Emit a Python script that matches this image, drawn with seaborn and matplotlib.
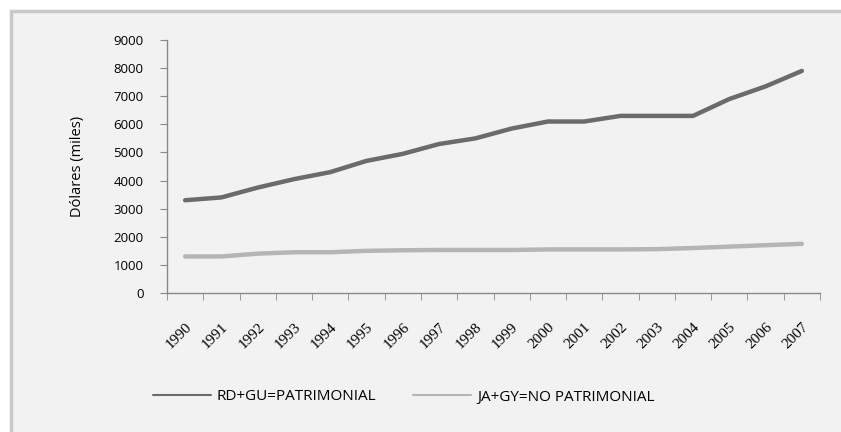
import pandas as pd
import numpy as np
import matplotlib
matplotlib.use("Agg")
import matplotlib.pyplot as plt
import seaborn as sns
from matplotlib.lines import Line2D
from matplotlib.patches import Rectangle

years = [str(y) for y in range(1990, 2008)]
patrimonial = [3300, 3400, 3750, 4050, 4300, 4700, 4950, 5300, 5500, 5850,
               6100, 6100, 6300, 6300, 6300, 6900, 7350, 7900]
no_patrimonial = [1300, 1300, 1400, 1450, 1450, 1500, 1520, 1530, 1530, 1530,
                  1550, 1550, 1550, 1560, 1600, 1650, 1700, 1750]
series_names = ["RD+GU=PATRIMONIAL", "JA+GY=NO PATRIMONIAL"]
colors = ["#6b6b6b", "#b5b5b5"]

df = pd.DataFrame({
    "year": years * 2,
    "x": list(range(len(years))) * 2,
    "value": patrimonial + no_patrimonial,
    "serie": [series_names[0]] * len(years) + [series_names[1]] * len(years),
})

sns.set_style("white")
plt.rcParams["font.family"] = ["Open Sans", "DejaVu Sans"]
plt.rcParams["text.color"] = "black"

fig = plt.figure(figsize=(8.41, 4.32), dpi=100)
fig.patch.set_facecolor("white")
# outer chart frame (drawn behind the axes)
frame = Rectangle((11 / 841, -0.05), 1.0, 1 - 11 / 432 + 0.05,
                  transform=fig.transFigure, facecolor="#f2f2f2",
                  edgecolor="#c8c8c8", linewidth=2.5, zorder=-10)
fig.patches.append(frame)

ax = fig.add_axes([167 / 841, 1 - 293 / 432, (820 - 167) / 841, (293 - 40) / 432])
ax.set_zorder(1)
ax.set_facecolor("#f2f2f2")
sns.lineplot(data=df, x="x", y="value", hue="serie", palette=colors,
             linewidth=3.2, legend=False, ax=ax)

ax.set_xlim(-0.5, len(years) - 0.5)
ax.set_ylim(0, 9000)
ax.set_yticks(range(0, 9001, 1000))
ax.tick_params(axis="y", labelsize=9.5, length=5, color="#888888", direction="out",
               left=True, pad=12, labelcolor="black")
ax.set_xticks(range(len(years)))
ax.set_xticklabels(years, rotation=45, ha="right", rotation_mode="anchor",
                   fontsize=11, family="Liberation Serif")
ax.set_xticks(np.arange(-0.5, len(years)), minor=True)
ax.tick_params(axis="x", which="major", length=0, pad=20, labelcolor="black")
ax.tick_params(axis="x", which="minor", length=5, color="#888888", direction="out",
               bottom=True)
for side in ["top", "right"]:
    ax.spines[side].set_visible(False)
for side in ["left", "bottom"]:
    ax.spines[side].set_color("#888888")
    ax.spines[side].set_linewidth(1)
ax.set_xlabel("")
ax.set_ylabel("Dólares (miles)", fontsize=10.5, labelpad=20, color="black")

handles = [Line2D([0], [0], color=c, linewidth=1.5) for c in colors]
fig.legend(handles, series_names, loc="center", bbox_to_anchor=(0.48, 1 - 397 / 432),
           ncol=2, frameon=False, fontsize=11, handlelength=3.8, columnspacing=2.4,
           handletextpad=0.4, labelcolor="black")

fig.savefig("out.png", dpi=100)
